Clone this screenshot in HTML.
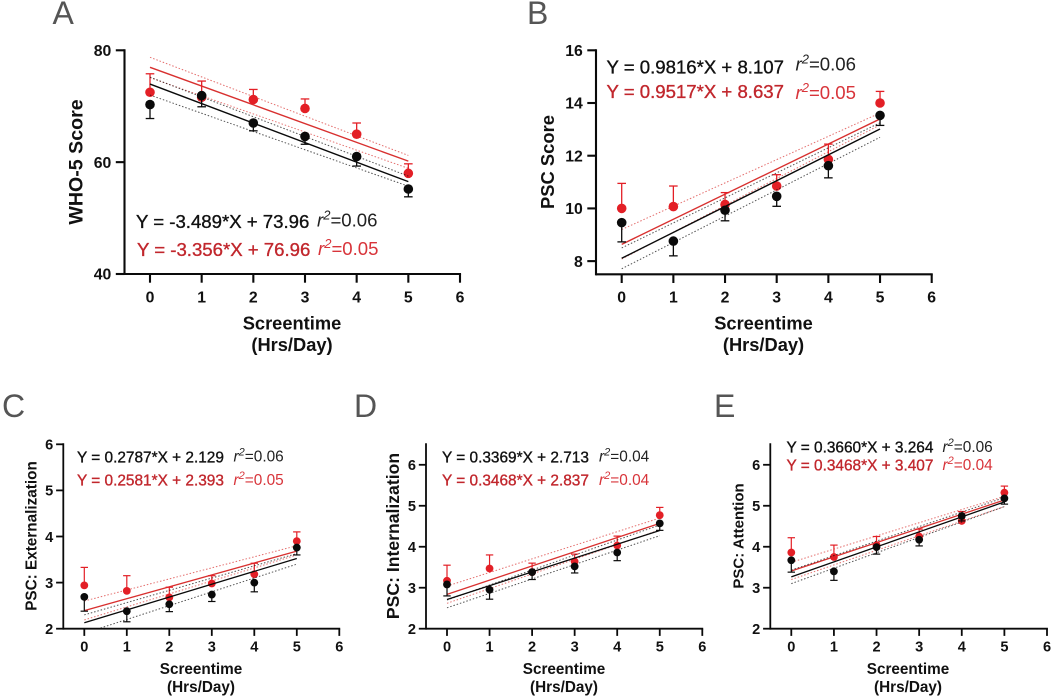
<!DOCTYPE html>
<html lang="en">
<head>
<meta charset="utf-8">
<title>Screentime regression panels</title>
<style>
html,body{margin:0;padding:0;background:#fff;width:1052px;height:697px;overflow:hidden}
svg{display:block;font-family:"Liberation Sans",Arial,sans-serif;filter:blur(.3px)}
.letter{font-size:32px;fill:#555}
.big-title{font-weight:bold;fill:#111;font-size:18.3px}
.small-title{font-weight:bold;fill:#111;font-size:15.3px}
.eq{stroke-width:.35px}
.eq-big{font-size:18.6px}
.eq-small{font-size:15.4px}
.k{fill:#111;stroke:#111}
.r{fill:#c1272d;stroke:#c1272d}
.r2{stroke-width:0;font-weight:normal}
.k.r2{fill:#222}
.r.r2{fill:#d8343a}
</style>
</head>
<body>
<svg id="figure" width="1052" height="697" viewBox="0 0 1052 697" xmlns="http://www.w3.org/2000/svg">
  <rect x="0" y="0" width="1052" height="697" fill="#fff"/>

  <g id="panel-a">
    <text class="letter" x="52.5" y="24">A</text>
    <text class="big-title" style="font-size:19.6px" transform="translate(82.3,162) rotate(-90)" text-anchor="middle">WHO-5 Score</text>
    <text class="big-title" x="292" y="329.5" text-anchor="middle">Screentime</text>
    <text class="big-title" x="292" y="351" text-anchor="middle">(Hrs/Day)</text>
    <text class="eq eq-big k" x="136" y="228">Y = -3.489*X + 73.96</text>
    <text class="eq eq-big r" x="137" y="256">Y = -3.356*X + 76.96</text>
    <text class="eq-big k r2" x="317" y="226.5"><tspan font-style="italic">r</tspan><tspan font-style="italic" font-size="13" dy="-7">2</tspan><tspan dy="7">=0.06</tspan></text>
    <text class="eq-big r r2" x="318" y="255"><tspan font-style="italic">r</tspan><tspan font-style="italic" font-size="13" dy="-7">2</tspan><tspan dy="7">=0.05</tspan></text>
  </g>

  <g id="panel-b">
    <text class="letter" x="527" y="24">B</text>
    <text class="big-title" style="font-size:18.4px" transform="translate(554,162) rotate(-90)" text-anchor="middle">PSC Score</text>
    <text class="big-title" x="763.5" y="329.5" text-anchor="middle">Screentime</text>
    <text class="big-title" x="763.5" y="351" text-anchor="middle">(Hrs/Day)</text>
    <text class="eq eq-big k" x="606.5" y="73.5">Y = 0.9816*X + 8.107</text>
    <text class="eq eq-big r" x="606.5" y="98">Y = 0.9517*X + 8.637</text>
    <text class="eq-big k r2" x="795.5" y="70.5"><tspan font-style="italic">r</tspan><tspan font-style="italic" font-size="13" dy="-7">2</tspan><tspan dy="7">=0.06</tspan></text>
    <text class="eq-big r r2" x="795.5" y="99"><tspan font-style="italic">r</tspan><tspan font-style="italic" font-size="13" dy="-7">2</tspan><tspan dy="7">=0.05</tspan></text>
  </g>

  <g id="panel-c">
    <text class="letter" x="2" y="417">C</text>
    <text class="small-title" transform="translate(36.7,536) rotate(-90)" text-anchor="middle">PSC: Externalization</text>
    <text class="small-title" x="201" y="674" text-anchor="middle">Screentime</text>
    <text class="small-title" x="201" y="692" text-anchor="middle">(Hrs/Day)</text>
    <text class="eq eq-small k" x="77" y="462.3">Y = 0.2787*X + 2.129</text>
    <text class="eq eq-small r" x="77" y="485.7">Y = 0.2581*X + 2.393</text>
    <text class="eq-small k r2" x="233.5" y="461.5"><tspan font-style="italic">r</tspan><tspan font-style="italic" font-size="11" dy="-6">2</tspan><tspan dy="6">=0.06</tspan></text>
    <text class="eq-small r r2" x="233.5" y="485"><tspan font-style="italic">r</tspan><tspan font-style="italic" font-size="11" dy="-6">2</tspan><tspan dy="6">=0.05</tspan></text>
  </g>

  <g id="panel-d">
    <text class="letter" x="354" y="417">D</text>
    <text class="small-title" style="font-size:17.6px" transform="translate(399,536) rotate(-90)" text-anchor="middle">PSC: Internalization</text>
    <text class="small-title" x="564" y="674" text-anchor="middle">Screentime</text>
    <text class="small-title" x="564" y="692" text-anchor="middle">(Hrs/Day)</text>
    <text class="eq eq-small k" x="442" y="462.3">Y = 0.3369*X + 2.713</text>
    <text class="eq eq-small r" x="442" y="485.7">Y = 0.3468*X + 2.837</text>
    <text class="eq-small k r2" x="599" y="461.5"><tspan font-style="italic">r</tspan><tspan font-style="italic" font-size="11" dy="-6">2</tspan><tspan dy="6">=0.04</tspan></text>
    <text class="eq-small r r2" x="599" y="485"><tspan font-style="italic">r</tspan><tspan font-style="italic" font-size="11" dy="-6">2</tspan><tspan dy="6">=0.04</tspan></text>
  </g>

  <g id="panel-e">
    <text class="letter" x="714" y="417">E</text>
    <text class="small-title" style="font-size:15px" transform="translate(743.3,536) rotate(-90)" text-anchor="middle">PSC: Attention</text>
    <text class="small-title" x="908" y="674" text-anchor="middle">Screentime</text>
    <text class="small-title" x="908" y="692" text-anchor="middle">(Hrs/Day)</text>
    <text class="eq eq-small k" x="786.5" y="452.7">Y = 0.3660*X + 3.264</text>
    <text class="eq eq-small r" x="786.5" y="470.7">Y = 0.3468*X + 3.407</text>
    <text class="eq-small k r2" x="942.5" y="452"><tspan font-style="italic">r</tspan><tspan font-style="italic" font-size="11" dy="-6">2</tspan><tspan dy="6">=0.06</tspan></text>
    <text class="eq-small r r2" x="942.5" y="470"><tspan font-style="italic">r</tspan><tspan font-style="italic" font-size="11" dy="-6">2</tspan><tspan dy="6">=0.04</tspan></text>
  </g>
</svg>

<script>
// Shared x categories and ticks
const screentimeHours = [0, 1, 2, 3, 4, 5];
const xTickLabels = [0, 1, 2, 3, 4, 5, 6];

// Panel A: WHO-5 Score
const aYTicks = [40, 60, 80];
const aRedMeans = [72.5, 71.6, 71.2, 69.6, 65.0, 58.0];
const aRedErrorEnds = [75.8, 74.5, 73.0, 71.3, 67.0, 59.7];
const aBlackMeans = [70.3, 71.9, 67.0, 64.6, 61.0, 55.2];
const aBlackErrorEnds = [67.8, 69.9, 65.6, 63.2, 59.3, 53.8];
const aRedFit = [-3.356, 76.96];
const aBlackFit = [-3.489, 73.96];
const aRedCiUpper = [78.75, 61.2];
const aRedCiLower = [75.1, 58.9];
const aBlackCiUpper = [75.2, 57.5];
const aBlackCiLower = [72.0, 55.7];

// Panel B: PSC Score
const bYTicks = [8, 10, 12, 14, 16];
const bRedMeans = [10.0, 10.07, 10.15, 10.85, 11.86, 14.0];
const bRedErrorEnds = [10.95, 10.85, 10.6, 11.28, 12.44, 14.44];
const bBlackMeans = [9.46, 8.76, 9.93, 10.46, 11.62, 13.53];
const bBlackErrorEnds = [8.73, 8.2, 9.53, 10.08, 11.16, 13.15];
const bRedFit = [0.9517, 8.637];
const bBlackFit = [0.9816, 8.107];
const bRedCiUpper = [9.2, 13.62];
const bRedCiLower = [8.08, 13.17];
const bBlackCiUpper = [8.5, 13.25];
const bBlackCiLower = [7.71, 12.7];

// Panel C: PSC Externalization
const cYTicks = [2, 3, 4, 5, 6];
const cRedMeans = [2.94, 2.82, 2.68, 2.98, 3.18, 3.9];
const cRedErrorEnds = [3.33, 3.15, 2.9, 3.15, 3.42, 4.1];
const cBlackMeans = [2.69, 2.38, 2.53, 2.74, 3.0, 3.76];
const cBlackErrorEnds = [2.38, 2.15, 2.37, 2.59, 2.8, 3.6];
const cRedFit = [0.2581, 2.393];
const cBlackFit = [0.2787, 2.129];
const cRedCiUpper = [2.6, 3.8];
const cRedCiLower = [2.19, 3.6];
const cBlackCiUpper = [2.3, 3.63];
const cBlackCiLower = [1.9, 3.4];

// Panel D: PSC Internalization
const dYTicks = [2, 3, 4, 5, 6];
const dRedMeans = [3.17, 3.47, 3.38, 3.64, 4.03, 4.77];
const dRedErrorEnds = [3.55, 3.8, 3.6, 3.82, 4.26, 4.96];
const dBlackMeans = [3.08, 2.95, 3.38, 3.52, 3.86, 4.57];
const dBlackErrorEnds = [2.8, 2.72, 3.2, 3.36, 3.66, 4.4];
const dRedFit = [0.3468, 2.837];
const dBlackFit = [0.3369, 2.713];
const dRedCiUpper = [3.04, 4.7];
const dRedCiLower = [2.62, 4.41];
const dBlackCiUpper = [2.7, 4.53];
const dBlackCiLower = [2.51, 4.27];

// Panel E: PSC Attention
const eYTicks = [2, 3, 4, 5, 6];
const eRedMeans = [3.86, 3.75, 4.04, 4.25, 4.63, 5.32];
const eRedErrorEnds = [4.22, 4.04, 4.25, 4.43, 4.86, 5.48];
const eBlackMeans = [3.67, 3.4, 3.99, 4.17, 4.75, 5.18];
const eBlackErrorEnds = [3.38, 3.18, 3.82, 4.02, 4.63, 5.04];
const eRedFit = [0.3468, 3.407];
const eBlackFit = [0.366, 3.264];
const eRedCiUpper = [3.62, 5.23];
const eRedCiLower = [3.2, 4.98];
const eBlackCiUpper = [3.43, 5.2];
const eBlackCiLower = [3.1, 4.98];

const SVG_NS = 'http://www.w3.org/2000/svg';
const RED = '#e31f26';
const RED_LINE = '#d8302f';
const BLACK = '#0a0a0a';

function make(tag, parent, attrs) {
  const node = document.createElementNS(SVG_NS, tag);
  for (const k in attrs) node.setAttribute(k, attrs[k]);
  parent.appendChild(node);
  return node;
}

function drawAxes(g, key, L, sx, sy, yTicks) {
  const yAxis = make('line', g, {x1: L.axisX, x2: L.axisX, y1: L.yTop - 1, y2: L.yBottom + L.axisW / 2, stroke: BLACK, 'stroke-width': L.axisW});
  
  
  const xAxis = make('line', g, {x1: L.axisX, x2: sx(xTickLabels[xTickLabels.length - 1]) + L.axisW / 2, y1: L.yBottom, y2: L.yBottom, stroke: BLACK, 'stroke-width': L.axisW});
  
  
  yTicks.forEach(function (v) {
    const tick = make('line', g, {x1: L.axisX - L.tick, x2: L.axisX, y1: sy(v), y2: sy(v), stroke: BLACK, 'stroke-width': L.axisW});
    
    
    const label = make('text', g, {x: L.axisX - L.tick - L.labelGap, y: sy(v) + L.tickFont * 0.36, 'text-anchor': 'end', 'font-size': L.tickFont, 'font-weight': 'bold', fill: '#111'});
    label.textContent = String(v);
    
    
  });
  xTickLabels.forEach(function (v) {
    const tick = make('line', g, {x1: sx(v), x2: sx(v), y1: L.yBottom, y2: L.yBottom + L.tick, stroke: BLACK, 'stroke-width': L.axisW});
    
    
    const label = make('text', g, {x: sx(v), y: L.xLabelY, 'text-anchor': 'middle', 'font-size': L.tickFont, 'font-weight': 'bold', fill: '#111'});
    label.textContent = String(v);
    
    
  });
}

function drawSeries(g, key, tone, color, lineColor, L, sx, sy, means, ends, fit, ciUpper, ciLower, clipId) {
  const first = screentimeHours[0];
  const last = screentimeHours[screentimeHours.length - 1];
  const fitLine = make('line', g, {x1: sx(first), x2: sx(last), y1: sy(fit[0] * first + fit[1]), y2: sy(fit[0] * last + fit[1]), stroke: lineColor, 'stroke-width': L.fitW, 'clip-path': 'url(#' + clipId + ')'});
  
  
  const upper = make('line', g, {x1: sx(first), x2: sx(last), y1: sy(ciUpper[0]), y2: sy(ciUpper[1]), stroke: lineColor, 'stroke-width': 1, 'stroke-opacity': .7, 'stroke-dasharray': '1.5 1.9', 'clip-path': 'url(#' + clipId + ')'});
  
  
  const lower = make('line', g, {x1: sx(first), x2: sx(last), y1: sy(ciLower[0]), y2: sy(ciLower[1]), stroke: lineColor, 'stroke-width': 1, 'stroke-opacity': .7, 'stroke-dasharray': '1.5 1.9', 'clip-path': 'url(#' + clipId + ')'});
  
  
  screentimeHours.forEach(function (h, i) {
    const stem = make('line', g, {x1: sx(h), x2: sx(h), y1: sy(means[i]), y2: sy(ends[i]), stroke: color, 'stroke-width': L.errW});
    
    
    const cap = make('line', g, {x1: sx(h) - L.cap, x2: sx(h) + L.cap, y1: sy(ends[i]), y2: sy(ends[i]), stroke: color, 'stroke-width': L.errW});
    
    
  });
  screentimeHours.forEach(function (h, i) {
    const dot = make('circle', g, {cx: sx(h), cy: sy(means[i]), r: L.dot, fill: color});
    
    
  });
}

function drawPanel(key, L, yTicks, redMeans, redEnds, blackMeans, blackEnds, redFit, blackFit, redUp, redLow, blackUp, blackLow) {
  const g = document.getElementById('panel-' + key);
  const sx = function (v) { return L.x0 + v * (L.x6 - L.x0) / 6; };
  const sy = function (v) { return L.yBottom - (v - L.yMin) * (L.yBottom - L.yTop) / (L.yMax - L.yMin); };
  const clipId = 'clip-' + key;
  const clip = make('clipPath', g, {id: clipId});
  make('rect', clip, {x: L.axisX, y: L.yTop, width: L.x6 - L.axisX, height: L.yBottom - L.yTop});
  drawSeries(g, key, 'red', RED, RED_LINE, L, sx, sy, redMeans, redEnds, redFit, redUp, redLow, clipId);
  drawSeries(g, key, 'black', BLACK, BLACK, L, sx, sy, blackMeans, blackEnds, blackFit, blackUp, blackLow, clipId);
  drawAxes(g, key, L, sx, sy, yTicks);
}

const largeStyle = {axisW: 2.1, tick: 8.7, labelGap: 4.5, tickFont: 15.8, xLabelY: 302.5, dot: 4.8, cap: 4.3, errW: 1.3, fitW: 1.4};
const smallStyle = {axisW: 1.8, tick: 7.2, labelGap: 2.8, tickFont: 14.6, xLabelY: 651.5, dot: 3.9, cap: 3.7, errW: 1.2, fitW: 1.3};

drawPanel('a', Object.assign({}, largeStyle, {axisX: 124.5, x0: 150, x6: 460, yTop: 50.3, yBottom: 274, yMin: 40, yMax: 80}),
  aYTicks, aRedMeans, aRedErrorEnds, aBlackMeans, aBlackErrorEnds, aRedFit, aBlackFit, aRedCiUpper, aRedCiLower, aBlackCiUpper, aBlackCiLower);
drawPanel('b', Object.assign({}, largeStyle, {axisX: 596, x0: 621.7, x6: 931.7, yTop: 50.3, yBottom: 274.3, yMin: 7.5, yMax: 16}),
  bYTicks, bRedMeans, bRedErrorEnds, bBlackMeans, bBlackErrorEnds, bRedFit, bBlackFit, bRedCiUpper, bRedCiLower, bBlackCiUpper, bBlackCiLower);
drawPanel('c', Object.assign({}, smallStyle, {axisX: 63.3, x0: 84.3, x6: 339.3, yTop: 444.3, yBottom: 628.7, yMin: 2, yMax: 6}),
  cYTicks, cRedMeans, cRedErrorEnds, cBlackMeans, cBlackErrorEnds, cRedFit, cBlackFit, cRedCiUpper, cRedCiLower, cBlackCiUpper, cBlackCiLower);
drawPanel('d', Object.assign({}, smallStyle, {axisX: 426, x0: 447, x6: 702.3, yTop: 444.3, yBottom: 628.7, yMin: 2, yMax: 6.5}),
  dYTicks, dRedMeans, dRedErrorEnds, dBlackMeans, dBlackErrorEnds, dRedFit, dBlackFit, dRedCiUpper, dRedCiLower, dBlackCiUpper, dBlackCiLower);
drawPanel('e', Object.assign({}, smallStyle, {axisX: 770.3, x0: 791.3, x6: 1047, yTop: 444.3, yBottom: 628.7, yMin: 2, yMax: 6.5}),
  eYTicks, eRedMeans, eRedErrorEnds, eBlackMeans, eBlackErrorEnds, eRedFit, eBlackFit, eRedCiUpper, eRedCiLower, eBlackCiUpper, eBlackCiLower);
</script>
</body>
</html>
